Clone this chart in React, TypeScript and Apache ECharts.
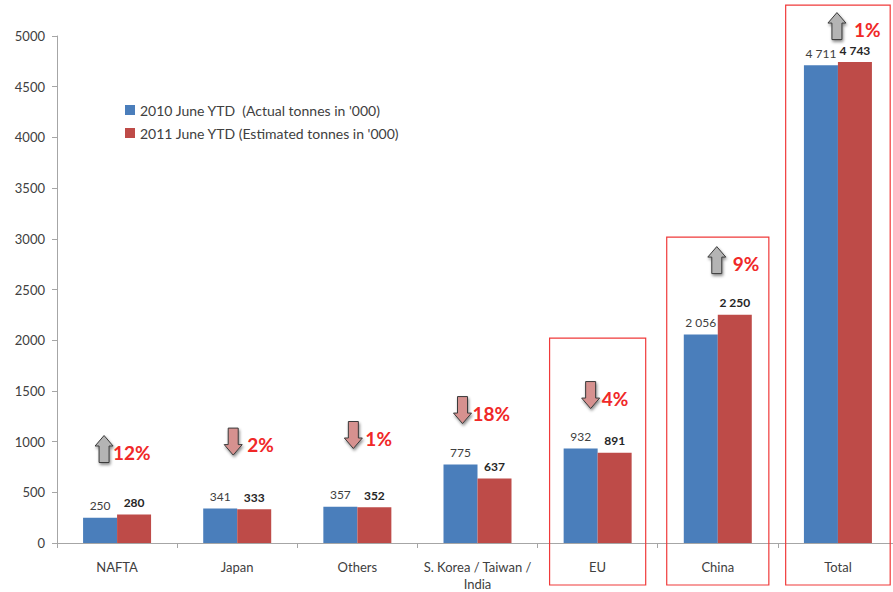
import React, { useEffect, useRef } from "react";
import * as echarts from "echarts";

const categories = ["NAFTA", "Japan", "Others", "S. Korea / Taiwan /\nIndia", "EU", "China", "Total"];
const series2010 = [250, 341, 357, 775, 932, 2056, 4711];
const series2011 = [280, 333, 352, 637, 891, 2250, 4743];
const legendNames = ["2010 June YTD  (Actual tonnes in '000)", "2011 June YTD (Estimated tonnes in '000)"];
const yTicks = { min: 0, max: 5000, interval: 500 };

// change annotations: percent change, level (value units) of the arrow centre
const changePct = [12, -2, -1, -18, -4, 9, 1];
const arrowLevel = [927, 1000, 1065, 1311, 1459, 2790, 5098];
// horizontal nudges of the arrow (px from category centre) and gap to the text
const arrowDx = [-13, -4, -4, -15, -7, -1, -1];
const textGap = [0, 5, 3, 1, 2, 7, 8];

// highlight boxes: category index, top (value units), half width (fraction of category)
const boxCat = [4, 5, 6];
const boxTop = [2021, 3017, 5305];
const boxHalf = [0.4, 0.425, 0.435];

const FONT = "Lato, 'Open Sans', sans-serif";
const fmt = (v: number) => String(v).replace(/\B(?=(\d{3})+(?!\d))/g, " ");

export default function App() {
  const ref = useRef<HTMLDivElement>(null);
  useEffect(() => {
    if (!ref.current) return;
    const chart = echarts.init(ref.current, null, { renderer: "svg" });
    const option: any = {
      animation: false,
      backgroundColor: "#ffffff",
      textStyle: { fontFamily: FONT },
      grid: { left: 57, top: 36, width: 841, height: 507, containLabel: false, outerBoundsMode: "none" },
      legend: {
        orient: "vertical",
        left: 120,
        top: 98,
        itemWidth: 10,
        itemHeight: 10,
        itemGap: 9,
        icon: "rect",
        textStyle: { fontSize: 14, color: "#404040", fontFamily: FONT },
        data: legendNames,
      },
      xAxis: {
        type: "category",
        data: categories,
        axisLine: { lineStyle: { color: "#a6a6a6" } },
        axisTick: { show: true, length: 5, lineStyle: { color: "#a6a6a6" } },
        axisLabel: { fontSize: 13, color: "#404040", margin: 15, fontFamily: FONT, lineHeight: 17, interval: 0 },
      },
      yAxis: {
        type: "value",
        min: yTicks.min,
        max: yTicks.max,
        interval: yTicks.interval,
        splitLine: { show: false },
        axisLine: { show: true, lineStyle: { color: "#a6a6a6" } },
        axisTick: { show: true, length: 5, lineStyle: { color: "#a6a6a6" } },
        axisLabel: {
          fontSize: 13,
          color: "#404040",
          margin: 12,
          fontFamily: FONT,
          formatter: (v: number) => String(v),
        },
      },
      series: [
        {
          name: legendNames[0],
          type: "bar",
          data: series2010,
          barWidth: 34,
          barGap: "0%",
          itemStyle: { color: "#4a7ebb" },
          label: {
            show: true,
            position: "top",
            distance: 6,
            fontSize: 12,
            color: "#404040",
            fontFamily: FONT,
            formatter: (p: any) => fmt(p.value),
          },
        },
        {
          name: legendNames[1],
          type: "bar",
          data: series2011,
          barWidth: 34,
          barGap: "0%",
          itemStyle: { color: "#be4b48" },
          label: {
            show: true,
            position: "top",
            distance: 6,
            fontSize: 12,
            fontWeight: "bold",
            color: "#262626",
            fontFamily: FONT,
            formatter: (p: any) => fmt(p.value),
          },
        },
        {
          type: "custom",
          name: "boxes",
          clip: false,
          silent: true,
          z: 5,
          data: boxCat.map((c, i) => [c, boxTop[i], boxHalf[i]]),
          renderItem: (params: any, api: any) => {
            const c = api.value(0);
            const top = api.coord([c, api.value(1)]);
            const base = api.coord([c, 0]);
            const catW = api.size([1, 0])[0];
            const hw = catW * api.value(2);
            return {
              type: "rect",
              shape: { x: top[0] - hw, y: top[1], width: hw * 2, height: base[1] + 42 - top[1] },
              style: { fill: "none", stroke: "#f03a3a", lineWidth: 1.2 },
            };
          },
        },
        {
          type: "custom",
          name: "changes",
          clip: false,
          silent: true,
          z: 6,
          data: categories.map((_, i) => [i, arrowLevel[i]]),
          renderItem: (params: any, api: any) => {
            const idx = params.dataIndex;
            const pt = api.coord([api.value(0), api.value(1)]);
            const pct = changePct[idx];
            const up = pct > 0;
            const s = up ? 1 : -1;
            const ax = pt[0] + arrowDx[idx];
            const cy = pt[1];
            const raw = [
              [0, -13.5], [9, -3], [5, -3], [5, 13.5], [-5, 13.5], [-5, -3], [-9, -3],
            ];
            const points = raw.map(([x, y]) => [ax + x, cy + y * s]);
            return {
              type: "group",
              children: [
                {
                  type: "polygon",
                  shape: { points },
                  style: {
                    fill: up ? "#b4b4b4" : "#d6918f",
                    stroke: "#3a3a3a",
                    lineWidth: 1,
                    shadowBlur: 3,
                    shadowColor: "rgba(0,0,0,0.45)",
                    shadowOffsetX: 1,
                    shadowOffsetY: 2,
                  },
                },
                {
                  type: "text",
                  x: ax + 9 + textGap[idx],
                  y: cy + 3,
                  style: {
                    text: Math.abs(pct) + "%",
                    fill: "#f02828",
                    font: "bold 19px " + FONT,
                    align: "left",
                    verticalAlign: "middle",
                  },
                },
              ],
            };
          },
        },
      ],
    };
    chart.setOption(option);
    return () => chart.dispose();
  }, []);
  return (
    <div
      ref={ref}
      style={{ position: "absolute", left: 0, top: 0, width: 893, height: 592, background: "#fff" }}
    />
  );
}
